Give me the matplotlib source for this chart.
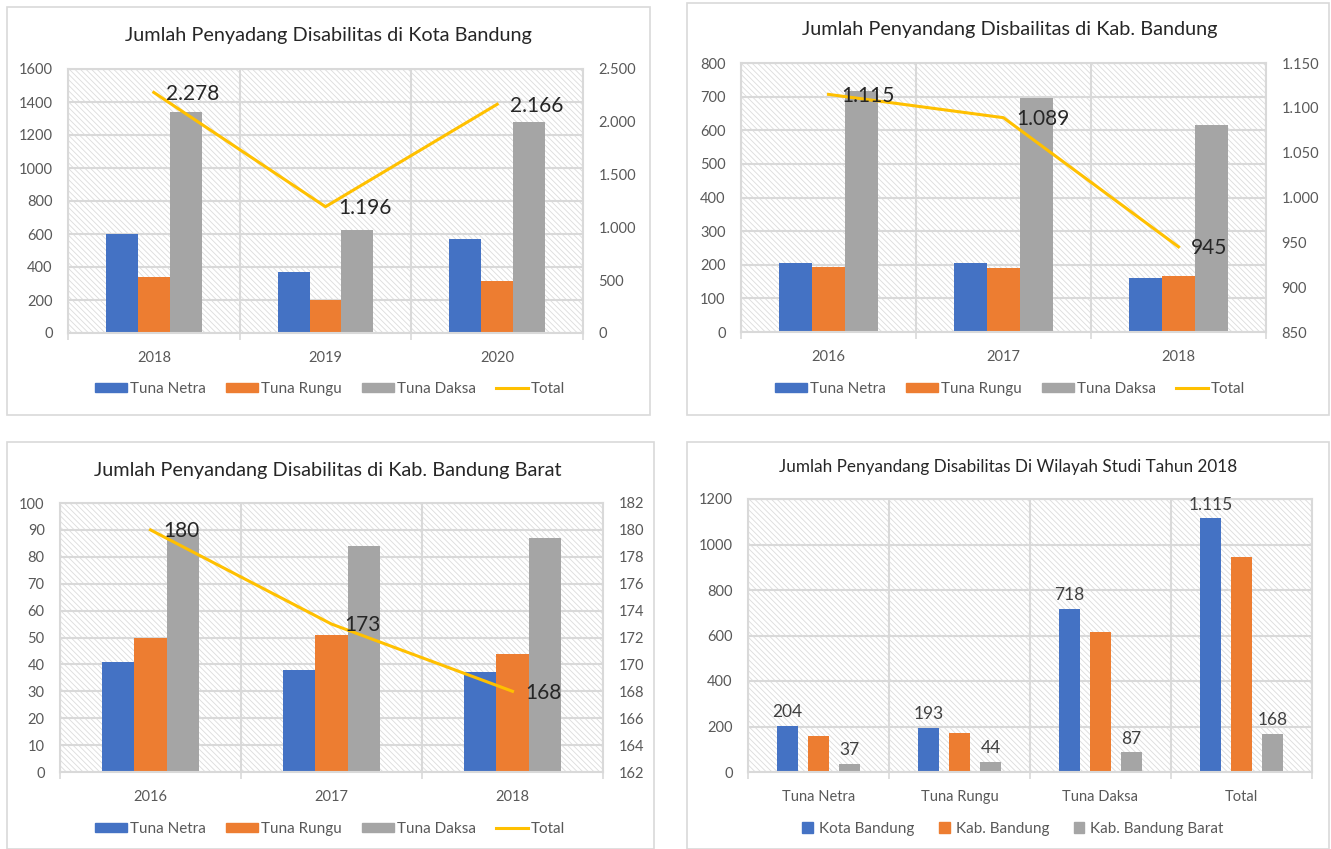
import numpy as np
import matplotlib
matplotlib.use("Agg")
import matplotlib.pyplot as plt
from matplotlib.patches import Rectangle, Patch
from matplotlib.lines import Line2D
from matplotlib.ticker import FuncFormatter, MultipleLocator, FixedLocator

# data
series_names = ["Tuna Netra", "Tuna Rungu", "Tuna Daksa"]

kota_years = ["2018", "2019", "2020"]
kota_netra = [600, 370, 570]
kota_rungu = [340, 200, 315]
kota_daksa = [1340, 625, 1280]
kota_total = [2278, 1196, 2166]

kab_years = ["2016", "2017", "2018"]
kab_netra = [204, 204, 160]
kab_rungu = [193, 191, 168]
kab_daksa = [718, 695, 615]
kab_total = [1115, 1089, 945]

kbb_years = ["2016", "2017", "2018"]
kbb_netra = [41, 38, 37]
kbb_rungu = [50, 51, 44]
kbb_daksa = [89, 84, 87]
kbb_total = [180, 173, 168]

wil_cats = ["Tuna Netra", "Tuna Rungu", "Tuna Daksa", "Total"]
wil_names = ["Kota Bandung", "Kab. Bandung", "Kab. Bandung Barat"]
wil_kota = [204, 193, 718, 1115]
wil_kab = [160, 170, 615, 945]
wil_kbb = [37, 44, 87, 168]

BLUE, ORANGE, GRAY, GOLD = "#4472C4", "#ED7D31", "#A5A5A5", "#FFC000"
GRID = "#d9d9d9"
TXT = "#595959"

plt.rcParams["font.family"] = ["Lato", "DejaVu Sans"]
plt.rcParams["hatch.linewidth"] = 0.6

W, H = 1331, 849
fig = plt.figure(figsize=(W / 100, H / 100), dpi=100)


def box(x0, y0, x1, y1):
    return [x0 / W, 1 - y1 / H, (x1 - x0) / W, (y1 - y0) / H]


def dotfmt(v, pos):
    return f"{int(round(v)):,}".replace(",", ".")


def frame(x0, y0, x1, y1):
    fig.add_artist(Rectangle((x0 / W, 1 - y1 / H), (x1 - x0) / W, (y1 - y0) / H,
                             transform=fig.transFigure, fill=False,
                             edgecolor=GRID, linewidth=1.2))


def style_axes(ax, n, ymax, ystep, cats):
    ax.add_patch(Rectangle((0, 0), 1, 1, transform=ax.transAxes, facecolor="white",
                           edgecolor="#dcdcdc", hatch="\\\\\\\\\\\\", linewidth=0, zorder=0))
    ax.set_xlim(-0.5, n - 0.5)
    ax.set_ylim(0, ymax)
    ax.yaxis.set_major_locator(MultipleLocator(ystep))
    ax.set_xticks(range(n))
    ax.set_xticklabels(cats)
    ax.xaxis.set_minor_locator(FixedLocator(np.arange(-0.5, n, 1.0)))
    ax.tick_params(axis="x", which="major", length=0, pad=13, labelsize=10.5, labelcolor=TXT)
    ax.tick_params(axis="x", which="minor", length=5, color=GRID, width=1.2)
    ax.tick_params(axis="y", length=0, pad=11, labelsize=10.5, labelcolor=TXT)
    ax.grid(True, axis="y", color=GRID, linewidth=1.5)
    ax.grid(True, axis="x", which="minor", color=GRID, linewidth=1.5)
    ax.set_axisbelow(True)
    for s in ax.spines.values():
        s.set_color(GRID)
        s.set_linewidth(1.5)


def combo(rect, cats, netra, rungu, daksa, total, ymax, ystep, rlim, rstep,
          title, title_xy, legend_xy, width):
    ax = fig.add_axes(box(*rect))
    n = len(cats)
    style_axes(ax, n, ymax, ystep, cats)
    x = np.arange(n)
    for i, (vals, c) in enumerate(zip([netra, rungu, daksa], [BLUE, ORANGE, GRAY])):
        ax.bar(x + (i - 1) * width, vals, width, color=c, zorder=2)
    ax2 = ax.twinx()
    ax2.set_ylim(*rlim)
    ax2.yaxis.set_major_locator(MultipleLocator(rstep))
    ax2.yaxis.set_major_formatter(FuncFormatter(dotfmt))
    ax2.tick_params(axis="y", length=0, pad=11, labelsize=10.5, labelcolor=TXT)
    for s in ax2.spines.values():
        s.set_visible(False)
    ax2.plot(x, total, color=GOLD, linewidth=2.2, zorder=3)
    for xi, v in zip(x, total):
        ax2.annotate(dotfmt(v, None), (xi, v), xytext=(9, -1), textcoords="offset points",
                     ha="left", va="center", fontsize=15, color="#262626")
    fig.text(title_xy[0] / W, 1 - title_xy[1] / H, title, ha="center", va="center",
             fontsize=14.3, color="#262626")
    handles = [Patch(color=BLUE), Patch(color=ORANGE), Patch(color=GRAY),
               Line2D([], [], color=GOLD, linewidth=2.2)]
    ax.legend(handles, series_names + ["Total"], loc="center",
              bbox_to_anchor=(legend_xy[0] / W, 1 - legend_xy[1] / H),
              bbox_transform=fig.transFigure, ncol=4, frameon=False, fontsize=11,
              handlelength=2.1, handleheight=0.6, handletextpad=0.2, columnspacing=1.3,
              labelcolor=TXT)


frame(7, 7, 650, 415)
frame(687, 3, 1329, 415)
frame(7, 442, 654, 849)
frame(687, 442, 1329, 849)

combo((68, 69, 583, 333), kota_years, kota_netra, kota_rungu, kota_daksa, kota_total,
      1600, 200, (0, 2500), 500, "Jumlah Penyadang Disabilitas di Kota Bandung",
      (328, 35), (330, 389), 0.186)
combo((741, 63, 1266, 332), kab_years, kab_netra, kab_rungu, kab_daksa, kab_total,
      800, 100, (850, 1150), 50, "Jumlah Penyandang Disbailitas di Kab. Bandung",
      (1010, 30), (1010, 389), 0.19)
combo((60, 503, 603, 772), kbb_years, kbb_netra, kbb_rungu, kbb_daksa, kbb_total,
      100, 10, (162, 182), 2, "Jumlah Penyandang Disabilitas di Kab. Bandung Barat",
      (328, 470), (330, 829), 0.18)

# panel 4
ax = fig.add_axes(box(748, 499, 1312, 772))
style_axes(ax, 4, 1200, 200, wil_cats)
x = np.arange(4)
bw, off = 0.15, 0.22
for i, (vals, c) in enumerate(zip([wil_kota, wil_kab, wil_kbb], [BLUE, ORANGE, GRAY])):
    ax.bar(x + (i - 1) * off, vals, bw, color=c, zorder=2)
    if i != 1:
        for xi, v in zip(x, vals):
            ax.text(xi + (i - 1) * off, v + 25, dotfmt(v, None), ha="center", va="bottom",
                    fontsize=12.5, color="#404040")
fig.text(1008 / W, 1 - 467 / H, "Jumlah Penyandang Disabilitas Di Wilayah Studi Tahun 2018",
         ha="center", va="center", fontsize=12.3, color="#262626")
ax.legend([Patch(color=BLUE), Patch(color=ORANGE), Patch(color=GRAY)], wil_names,
          loc="center", bbox_to_anchor=(1013 / W, 1 - 829 / H),
          bbox_transform=fig.transFigure, ncol=3, frameon=False, fontsize=11,
          handlelength=0.7, handleheight=0.7, handletextpad=0.4, columnspacing=1.6,
          labelcolor=TXT)

fig.savefig("out.png", dpi=100)
